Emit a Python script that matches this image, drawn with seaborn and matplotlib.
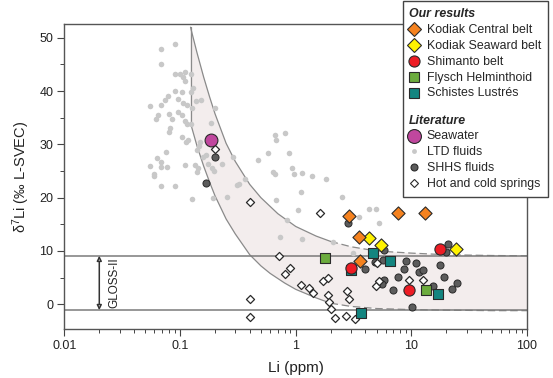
import matplotlib
matplotlib.use("Agg")
import matplotlib.pyplot as plt
from matplotlib.lines import Line2D
from matplotlib.ticker import MultipleLocator, LogLocator, NullFormatter
import seaborn as sns

# Our results
kodiak_central_li = [2.9, 7.6, 13.2, 3.5, 3.6]
kodiak_central_d7li = [16.6, 17.1, 17.1, 12.7, 8.2]
kodiak_seaward_li = [4.3, 5.5, 24.2]
kodiak_seaward_d7li = [12.4, 11.1, 10.4]
shimanto_li = [3.0, 9.6, 17.6]
shimanto_d7li = [6.9, 2.6, 10.4]
flysch_li = [1.79, 13.3]
flysch_d7li = [8.6, 2.7]
schistes_li = [4.7, 6.5, 3.0, 3.7, 17.1]
schistes_d7li = [9.6, 8.2, 6.4, -1.6, 1.9]

# Literature
seawater_li = [0.184]
seawater_d7li = [30.9]

ltd_li = [0.090, 0.069, 0.069, 0.090, 0.100, 0.110, 0.106, 0.111, 0.123, 0.130,
          0.090, 0.103, 0.123, 0.074, 0.079, 0.069, 0.055, 0.096, 0.106, 0.114,
          0.137, 0.153, 0.200, 0.126, 0.096, 0.103, 0.080, 0.065, 0.062, 0.085,
          0.110, 0.114, 0.123, 0.184, 0.082, 0.080, 0.103, 0.112, 0.076, 0.063,
          0.069, 0.055, 0.069, 0.077, 0.059, 0.060, 0.069, 0.090, 0.110, 0.135,
          0.139, 0.143, 0.117, 0.149, 0.147, 0.139, 0.167, 0.157, 0.175, 0.187,
          0.196, 0.229, 0.126, 0.194, 0.255, 0.288, 0.309, 0.660, 0.808, 0.671,
          0.572, 0.878, 0.475, 0.935, 0.632, 0.667, 0.970, 1.14, 1.39, 1.83,
          0.364, 0.325, 1.12, 0.670, 1.05, 0.84, 2.52, 0.73, 1.13, 2.12,
          3.12, 4.33, 4.98, 5.27, 3.5]
ltd_d7li = [48.9, 48.0, 45.0, 43.2, 43.3, 43.6, 42.6, 41.9, 43.2, 40.5,
            40.1, 39.9, 39.9, 38.3, 39.1, 37.4, 37.2, 38.6, 37.7, 37.4,
            38.1, 38.4, 36.9, 36.8, 36.1, 35.5, 35.7, 35.5, 34.7, 34.7,
            34.4, 33.8, 33.8, 34.0, 33.0, 32.4, 31.4, 30.5, 28.6, 27.4,
            26.7, 26.0, 25.8, 25.8, 24.4, 24.1, 22.2, 22.2, 26.1, 26.1,
            24.9, 25.5, 30.9, 30.5, 29.7, 28.9, 28.0, 27.7, 26.3, 25.5,
            25.1, 26.3, 19.7, 19.9, 20.2, 27.6, 22.4, 31.7, 32.2, 30.8,
            28.4, 28.3, 27.1, 25.5, 24.8, 24.4, 24.4, 24.6, 24.1, 23.6,
            23.6, 22.5, 21.1, 19.6, 17.6, 15.8, 20.2, 12.7, 12.2, 11.7,
            9.7, 17.8, 17.8, 15.3, 16.3]

shhs_li = [0.200, 0.167, 2.85, 4.0, 4.8, 5.8, 5.7, 9.0, 10.9, 8.6,
           11.6, 12.6, 7.6, 5.8, 5.6, 7.0, 10.1, 15.5, 17.7, 19.0,
           20.9, 20.0, 24.7, 22.6]
shhs_d7li = [27.6, 22.8, 15.2, 6.6, 8.0, 10.2, 8.4, 8.1, 7.8, 6.7,
             6.0, 6.5, 5.2, 4.6, 3.8, 2.7, -0.5, 3.4, 7.4, 5.1,
             11.4, 9.8, 3.9, 2.8]

springs_li = [0.200, 0.40, 1.62, 0.71, 0.90, 0.81, 1.10, 1.30, 1.42, 1.73,
              1.90, 1.90, 1.95, 2.0, 2.2, 2.80, 2.90, 2.70, 3.26, 0.40,
              0.40, 5.0, 4.98, 5.3, 9.5, 12.5]
springs_d7li = [29.1, 19.2, 17.1, 9.1, 6.8, 5.6, 3.6, 3.1, 2.1, 4.3,
                4.9, 1.7, 0.4, -0.9, -2.5, 2.5, 1.0, -2.2, -2.8, 0.9,
                -2.4, 7.8, 3.4, 4.3, 4.5, 4.5]

# mixing envelope
band_upper_li = [0.123, 0.14, 0.16, 0.18, 0.2, 0.25, 0.3, 0.4, 0.5, 0.7,
                 1.0, 1.5, 2, 3, 5, 10, 20, 50, 100]
band_upper_d7li = [52.0, 47.2, 42.6, 38.9, 35.8, 30.2, 26.8, 22.5, 20.0, 17.0,
                   14.6, 12.8, 11.8, 10.8, 10.0, 9.6, 9.3, 9.15, 9.1]
band_lower_li = [0.123, 0.14, 0.16, 0.18, 0.2, 0.25, 0.3, 0.4, 0.5, 0.6,
                 0.8, 1.0, 1.5, 2, 3, 5, 10, 20, 50, 100]
band_lower_d7li = [34.0, 29.7, 25.9, 22.9, 20.4, 16.0, 13.2, 9.3, 7.2, 5.8,
                   4.0, 2.8, 1.2, 0.2, -0.4, -0.8, -1.0, -1.1, -1.2, -1.2]

gloss_top = 9.1
gloss_bottom = -1.1
gloss_x = 0.02
gloss_label_x = 0.027

x_ticks = [0.01, 0.1, 1, 10, 100]
x_tick_labels = ["0.01", "0.1", "1", "10", "100"]
y_ticks = [0, 10, 20, 30, 40, 50]

c_orange = "#f5821f"
c_yellow = "#fff200"
c_red = "#ed1c24"
c_green = "#6cac3e"
c_teal = "#138580"
c_sea = "#c0479e"
c_ltd = "#c8c8c8"
c_shhs = "#5c5c5c"
edge = "#2a2a2a"

sns.set_style("ticks")
plt.rcParams["font.family"] = ["Liberation Sans", "DejaVu Sans"]
plt.rcParams["mathtext.default"] = "regular"

fig = plt.figure(figsize=(5.53, 3.78), dpi=100)
ax = fig.add_axes([0.1166, 0.1288, 0.8364, 0.8077])
ax.set_xscale("log")

# envelope
ax.fill(band_upper_li + band_lower_li[::-1], band_upper_d7li + band_lower_d7li[::-1],
        color="#f3eded", lw=0, zorder=1)
up_solid = [i for i, v in enumerate(band_upper_li) if v <= 2]
up_dash = [i for i, v in enumerate(band_upper_li) if v >= 2]
lo_solid = [i for i, v in enumerate(band_lower_li) if v <= 2]
lo_dash = [i for i, v in enumerate(band_lower_li) if v >= 2]
for li, d, idx, ls in [(band_upper_li, band_upper_d7li, up_solid, "-"),
                       (band_upper_li, band_upper_d7li, up_dash, (0, (6, 3))),
                       (band_lower_li, band_lower_d7li, lo_solid, "-"),
                       (band_lower_li, band_lower_d7li, lo_dash, (0, (6, 3)))]:
    ax.plot([li[i] for i in idx], [d[i] for i in idx], color="#8a8a8a", lw=0.9, ls=ls, zorder=1.2)
ax.plot([band_upper_li[0], band_lower_li[0]], [band_upper_d7li[0], band_lower_d7li[0]],
        color="#8a8a8a", lw=0.9, zorder=1.2)

# GLOSS-II range
ax.axhline(gloss_top, color="#7a7a7a", lw=1.1, zorder=1.5)
ax.axhline(gloss_bottom, color="#7a7a7a", lw=1.1, zorder=1.5)
ax.annotate("", xy=(gloss_x, gloss_bottom), xytext=(gloss_x, gloss_top),
            arrowprops=dict(arrowstyle="<|-|>", fc="white", ec="#333333", lw=1.1,
                            mutation_scale=7, shrinkA=0, shrinkB=0))
ax.text(gloss_label_x, (gloss_top + gloss_bottom) / 2, "GLOSS-II", rotation=90,
        ha="center", va="center", fontsize=8.5, color="#222222")

# literature
sns.scatterplot(x=ltd_li, y=ltd_d7li, ax=ax, color=c_ltd, s=16, linewidth=0, zorder=2)
sns.scatterplot(x=shhs_li, y=shhs_d7li, ax=ax, color=c_shhs, edgecolor=edge, s=26,
                linewidth=0.7, zorder=3)
sns.scatterplot(x=springs_li, y=springs_d7li, ax=ax, marker="D", color="white",
                edgecolor=edge, s=17, linewidth=0.9, zorder=3)
sns.scatterplot(x=seawater_li, y=seawater_d7li, ax=ax, color=c_sea, edgecolor=edge,
                s=85, linewidth=0.8, zorder=4)

# our results
sns.scatterplot(x=schistes_li, y=schistes_d7li, ax=ax, marker="s", color=c_teal,
                edgecolor=edge, s=55, linewidth=0.8, zorder=4)
sns.scatterplot(x=flysch_li, y=flysch_d7li, ax=ax, marker="s", color=c_green,
                edgecolor=edge, s=55, linewidth=0.8, zorder=4)
sns.scatterplot(x=shimanto_li, y=shimanto_d7li, ax=ax, color=c_red,
                edgecolor=edge, s=65, linewidth=0.8, zorder=5)
sns.scatterplot(x=kodiak_seaward_li, y=kodiak_seaward_d7li, ax=ax, marker="D", color=c_yellow,
                edgecolor=edge, s=45, linewidth=0.8, zorder=5)
sns.scatterplot(x=kodiak_central_li, y=kodiak_central_d7li, ax=ax, marker="D", color=c_orange,
                edgecolor=edge, s=45, linewidth=0.8, zorder=5)

ax.set_xlim(0.01, 100)
ax.set_ylim(-4.7, 52.6)
ax.set_xticks(x_ticks)
ax.set_xticklabels(x_tick_labels)
ax.xaxis.set_minor_locator(LogLocator(base=10, subs=range(2, 10)))
ax.xaxis.set_minor_formatter(NullFormatter())
ax.set_yticks(y_ticks)
ax.yaxis.set_minor_locator(MultipleLocator(5))
ax.tick_params(which="major", direction="out", length=5, width=0.8, color="#444444",
               labelsize=9, labelcolor="#222222", pad=3)
ax.tick_params(which="minor", direction="out", length=3, width=0.7, color="#444444")
for sp in ax.spines.values():
    sp.set_visible(True)
    sp.set_color("#555555")
    sp.set_linewidth(1.0)
ax.set_xlabel("Li (ppm)", fontsize=11, color="#222222", labelpad=6)
ax.set_ylabel("δ$^{7}$Li (‰ L-SVEC)", fontsize=10.5, color="#222222", labelpad=5)

# legend
def mk(marker, fc, ms, mew=0.8, ec=edge):
    return Line2D([], [], ls="none", marker=marker, mfc=fc, mec=ec, ms=ms, mew=mew)

blank = Line2D([], [], ls="none")
handles = [blank,
           mk("D", c_orange, 6.8), mk("D", c_yellow, 6.8), mk("o", c_red, 8),
           mk("s", c_green, 6.5), mk("s", c_teal, 6.5),
           blank, blank,
           mk("o", c_sea, 10), mk("o", c_ltd, 3.5, 0, c_ltd), mk("o", c_shhs, 5),
           mk("D", "white", 4.5)]
labels = ["Our results", "Kodiak Central belt", "Kodiak Seaward belt", "Shimanto belt",
          "Flysch Helminthoid", "Schistes Lustrés", "", "Literature", "Seawater",
          "LTD fluids", "SHHS fluids", "Hot and cold springs"]
leg = fig.legend(handles, labels, loc="upper left", bbox_to_anchor=(0.729, 0.998),
                 bbox_transform=fig.transFigure, fontsize=8.9, frameon=True, fancybox=False,
                 edgecolor="#444444", framealpha=1, borderpad=0.6, labelspacing=0.31,
                 handlelength=0.6, handleheight=0.4, handletextpad=0.7, borderaxespad=0)
leg.get_frame().set_linewidth(1.0)
texts = leg.get_texts()
for i in (0, 7):
    texts[i].set_fontweight("bold")
    texts[i].set_fontstyle("italic")
    texts[i].set_x(-18)
texts[6].set_fontsize(1)

fig.savefig("out.png", dpi=100)
